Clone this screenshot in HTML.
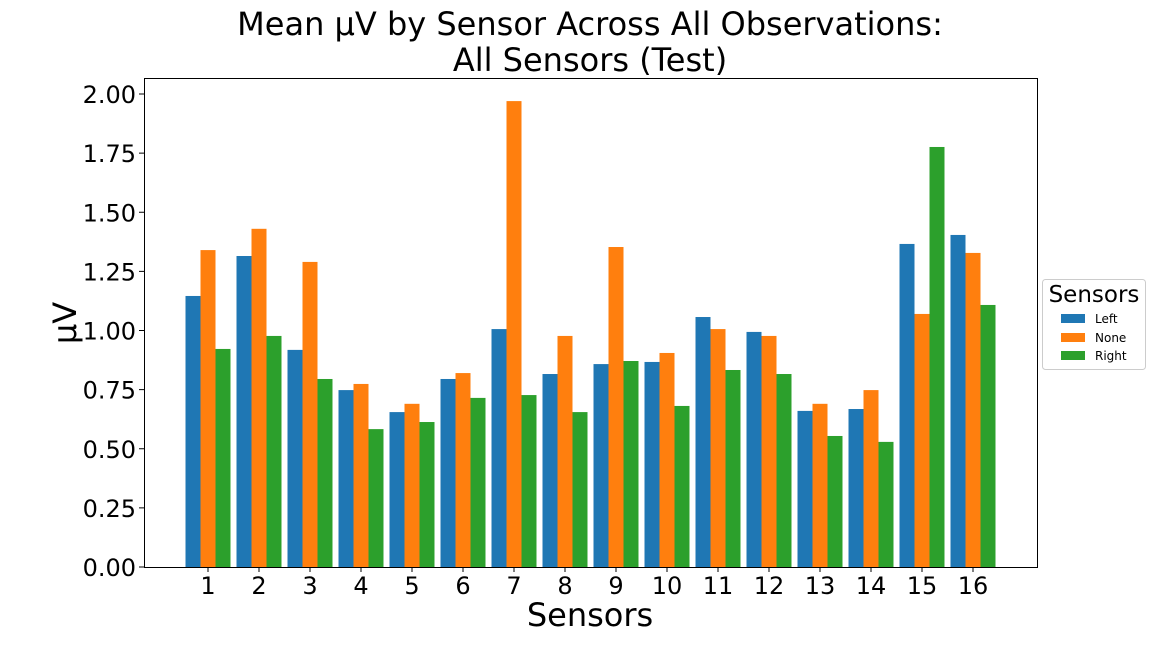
<!DOCTYPE html>
<html><head><meta charset="utf-8"><style>
body{margin:0;background:#fff;}
svg text{font-family:"DejaVu Sans","Liberation Sans",sans-serif;fill:#000;}
</style></head><body>
<svg id="chart" width="1152" height="648" xmlns="http://www.w3.org/2000/svg">
<text x="590" y="35" font-size="32" text-anchor="middle">Mean µV by Sensor Across All Observations:</text>
<text x="590" y="71" font-size="32" text-anchor="middle">All Sensors (Test)</text>
<g id="bars"></g>
<g id="axes"></g>
<rect x="144.5" y="78.5" width="893" height="489" fill="none" stroke="#000" stroke-width="1"/>
<text x="590" y="626" font-size="32" text-anchor="middle">Sensors</text>
<text transform="translate(76,323) rotate(-90)" font-size="32" text-anchor="middle">µV</text>
<g>
<rect x="1042.5" y="279.5" width="103" height="90" rx="3" fill="#fff" stroke="#ccc"/>
<text x="1094" y="302" font-size="23" text-anchor="middle">Sensors</text>
<rect x="1061" y="314" width="24" height="9" fill="#1f77b4"/><text x="1095" y="323" font-size="12">Left</text>
<rect x="1061" y="333" width="24" height="9" fill="#ff7f0e"/><text x="1095" y="342" font-size="12">None</text>
<rect x="1061" y="351" width="24" height="9" fill="#2ca02c"/><text x="1095" y="360" font-size="12">Right</text>
</g>
</svg>
<script>
const categories=["1","2","3","4","5","6","7","8","9","10","11","12","13","14","15","16"];
const leftVals=[1.146,1.315,0.918,0.748,0.655,0.795,1.006,0.816,0.858,0.867,1.057,0.994,0.66,0.668,1.366,1.404];
const noneVals=[1.34,1.43,1.29,0.774,0.69,0.82,1.97,0.977,1.353,0.905,1.006,0.977,0.69,0.748,1.07,1.328];
const rightVals=[0.922,0.977,0.795,0.583,0.613,0.715,0.727,0.655,0.871,0.681,0.833,0.816,0.554,0.529,1.776,1.108];
const yTicks=[0,0.25,0.5,0.75,1.0,1.25,1.5,1.75,2.0];
const NS="http://www.w3.org/2000/svg";
function yScale(v){return 567-v*236.5;}
function xScale(i){return 208+i*51;}
const bars=document.getElementById('bars'),axes=document.getElementById('axes');
const series=[[leftVals,"#1f77b4",-15,"left"],[noneVals,"#ff7f0e",0,"none"],[rightVals,"#2ca02c",15,"right"]];
series.forEach(s=>{s[0].forEach((v,i)=>{
 const r=document.createElementNS(NS,'rect');
 r.setAttribute('x',xScale(i)+s[2]-7.5);r.setAttribute('width',15);
 r.setAttribute('y',yScale(v));r.setAttribute('height',567-yScale(v));r.setAttribute('fill',s[1]);
 
 
 bars.appendChild(r);});});
categories.forEach((c,i)=>{
 const l=document.createElementNS(NS,'line');
 l.setAttribute('x1',xScale(i));l.setAttribute('x2',xScale(i));l.setAttribute('y1',567);l.setAttribute('y2',572);l.setAttribute('stroke','#000');
 axes.appendChild(l);
 const t=document.createElementNS(NS,'text');
 t.setAttribute('x',xScale(i));t.setAttribute('y',594);t.setAttribute('font-size','24');t.setAttribute('text-anchor','middle');t.textContent=c;
 
 
 axes.appendChild(t);});
yTicks.forEach(v=>{
 const l=document.createElementNS(NS,'line');
 l.setAttribute('x1',139);l.setAttribute('x2',144);l.setAttribute('y1',yScale(v));l.setAttribute('y2',yScale(v));l.setAttribute('stroke','#000');
 axes.appendChild(l);
 const t=document.createElementNS(NS,'text');
 t.setAttribute('x',136);t.setAttribute('y',yScale(v)+9);t.setAttribute('font-size','24');t.setAttribute('text-anchor','end');t.textContent=v.toFixed(2);
 
 
 axes.appendChild(t);});
</script>
</body></html>
